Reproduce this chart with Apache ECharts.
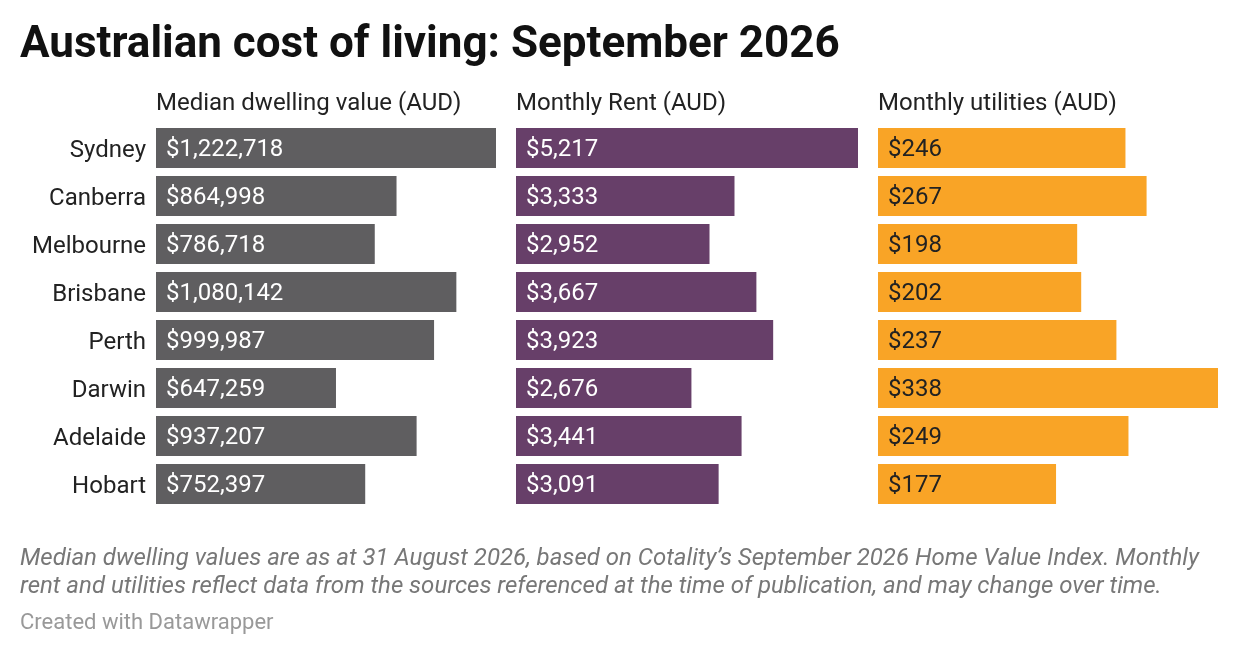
<!DOCTYPE html>
<html>
<head>
	<meta charset="utf-8" />
	<title>Australian cost of living</title>
	<script src="https://cdn.jsdelivr.net/npm/echarts@6/dist/echarts.min.js"></script>
	<style>
		body { margin: 0; background: #fff; }
		#chartmain { width: 1240px; height: 656px; }
	</style>
</head>
<body>
	<div id="chartmain"></div>
</body>
<script type="text/javascript">
	var cities = ['Sydney', 'Canberra', 'Melbourne', 'Brisbane', 'Perth', 'Darwin', 'Adelaide', 'Hobart'];
	var dwelling = [1222718, 864998, 786718, 1080142, 999987, 647259, 937207, 752397];
	var rent = [5217, 3333, 2952, 3667, 3923, 2676, 3441, 3091];
	var utilities = [246, 267, 198, 202, 237, 338, 249, 177];
	var headers = ['Median dwelling value (AUD)', 'Monthly Rent (AUD)', 'Monthly utilities (AUD)'];
	var colors = ['#5f5e60', '#673f69', '#f9a426'];
	var labelColors = ['#fff', '#fff', '#222'];

	var cols = [[156, 340], [516, 342], [878, 340]];
	var sets = [dwelling, rent, utilities];
	var font = 'Roboto, sans-serif';

	var myChart = echarts.init(document.getElementById('chartmain'));
	var grids = [], xAxes = [], yAxes = [], series = [];
	sets.forEach(function (d, i) {
		grids.push({ left: cols[i][0], width: cols[i][1], top: 124, height: 384 });
		xAxes.push({ type: 'value', gridIndex: i, min: 0, max: Math.max.apply(null, d), show: false });
		yAxes.push({
			type: 'category', gridIndex: i, data: cities, inverse: true,
			axisLine: { show: false }, axisTick: { show: false },
			axisLabel: {
				show: i === 0, margin: 10,
				formatter: function (v) { return '{c|' + v + '}'; },
				rich: { c: { color: '#222', fontSize: 24, fontFamily: font, padding: [5, 0, 0, 0] } }
			}
		});
		series.push({
			type: 'bar', xAxisIndex: i, yAxisIndex: i, data: d,
			barWidth: 40, silent: true,
			itemStyle: { color: colors[i] },
			label: {
				show: true, position: 'insideLeft', distance: 10, offset: [0, 2],
				color: labelColors[i], fontSize: 24, fontFamily: font,
				formatter: function (p) { return '$' + p.value.toLocaleString('en-US'); }
			}
		});
	});

	var texts = [
		{ type: 'text', left: 20, top: 24, style: { text: 'Australian cost of living: September 2026', font: 'bold 44px Roboto, sans-serif', fill: '#111' } },
		{ type: 'text', left: 20, top: 545, style: { text: 'Median dwelling values are as at 31 August 2026, based on Cotality\u2019s September 2026 Home Value Index. Monthly\nrent and utilities reflect data from the sources referenced at the time of publication, and may change over time.', font: 'italic 24px Roboto, sans-serif', fill: '#777', lineHeight: 28 } },
		{ type: 'text', left: 20, top: 612, style: { text: 'Created with Datawrapper', font: '22px Roboto, sans-serif', fill: '#999' } }
	];
	headers.forEach(function (h, i) {
		texts.push({ type: 'text', left: cols[i][0], top: 92, style: { text: h, font: '24px Roboto, sans-serif', fill: '#222' } });
	});

	var option = {
		animation: false,
		grid: grids, xAxis: xAxes, yAxis: yAxes, series: series,
		graphic: texts
	};
	myChart.setOption(option);
</script>
</html>
